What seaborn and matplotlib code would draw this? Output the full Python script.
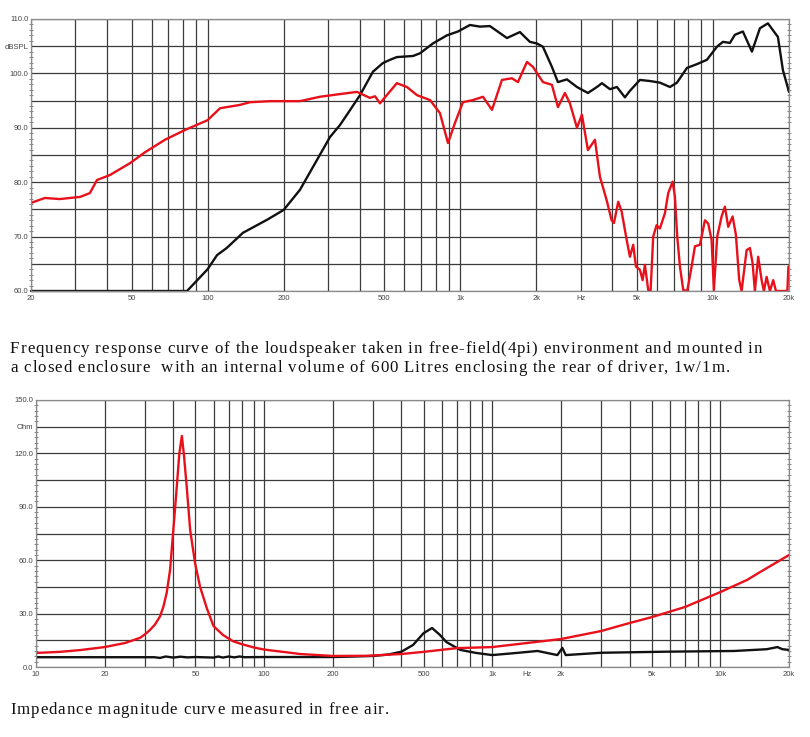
import numpy as np
import pandas as pd
import matplotlib
matplotlib.use('Agg')
import matplotlib.pyplot as plt
import seaborn as sns
from matplotlib.ticker import FixedLocator, FixedFormatter, NullFormatter
from matplotlib.font_manager import FontProperties

sns.set_theme(style='white')
plt.rcParams['font.family'] = ['Liberation Sans', 'DejaVu Sans']

# ---------------- data: frequency response (top) ----------------
spl_red_freq = [20, 22.7, 26, 31.3, 34.2, 36.5, 41, 49.3, 56.5, 67.8, 81.4, 100, 112, 134, 147,
                177, 232, 278, 334, 390, 439, 460, 481, 561, 615, 674, 759, 831, 894, 953,
                1024, 1122, 1230, 1335, 1462, 1601, 1691, 1836, 1939, 2124, 2305, 2435, 2595,
                2716, 2896, 3030, 3200, 3412, 3571, 3796, 3972, 4058, 4218, 4352, 4556, 4693,
                4836, 4958, 5140, 5268, 5380, 5544, 5666, 5802, 5984, 6168, 6456, 6654, 6926,
                7072, 7222, 7402, 7628, 7910, 8234, 8486, 8882, 9296, 9578, 9878, 10088, 10396,
                10822, 11152, 11494, 11964, 12330, 12706, 12986, 13592, 14008, 14354, 14656,
                15104, 15582, 15912, 16306, 16806, 17322, 17754, 19700, 19900, 20000]
spl_red_db = [76.2, 77.1, 76.9, 77.3, 78.0, 80.4, 81.3, 83.5, 85.5, 87.8, 89.6, 91.4, 93.6, 94.2, 94.7,
              94.9, 94.9, 95.7, 96.2, 96.6, 95.5, 95.8, 94.5, 98.2, 97.5, 96.0, 95.1, 92.7, 87.2, 90.9,
              94.7, 95.1, 95.7, 93.3, 98.8, 99.1, 98.4, 102.1, 101.2, 98.4, 97.9, 93.8, 96.4,
              94.5, 90.0, 92.4, 85.9, 87.8, 81.0, 76.7, 73.0, 72.5, 76.4, 74.6, 69.4, 66.3,
              68.5, 64.5, 63.9, 62.0, 64.8, 60.2, 60.0, 70.0, 72.1, 71.5, 74.3, 78.0, 80.1,
              77.3, 70.0, 64.5, 60.2, 60.0, 64.5, 68.2, 68.5, 73.0, 72.4, 69.4, 60.2, 70.0,
              73.7, 75.5, 71.8, 73.7, 70.3, 62.0, 60.0, 67.5, 67.9, 65.1, 60.0,
              66.3, 62.0, 60.0, 62.6, 60.0, 62.0, 60.0, 60.0, 64.5, 64.5]

spl_black_freq = [20, 82.9, 100, 109, 119, 138, 172, 200, 232, 278, 305, 334, 356, 401, 451, 494,
                  527, 561, 650, 693, 779, 886, 979, 1092, 1196, 1310, 1436, 1530, 1722, 1886,
                  2011, 2124, 2305, 2435, 2643, 2896, 3200, 3474, 3636, 3912, 4169, 4484, 4693,
                  5140, 5630, 6168, 6758, 7204, 7889, 8640, 9464, 10368, 10950, 11674, 12217,
                  13140, 14265, 15344, 16504, 18079, 18920, 20000]
spl_black_db = [60.0, 60.0, 64.0, 66.6, 67.9, 70.7, 73.1, 74.9, 78.6, 85.0, 88.3, 90.5, 92.4, 96.0, 100.3, 101.9,
                102.5, 103.0, 103.2, 103.7, 105.5, 107.0, 107.7, 108.9, 108.6, 108.7, 107.4, 106.5, 107.6, 105.8,
                105.5, 104.9, 101.2, 98.4, 98.9, 97.5, 96.4, 97.5, 98.2, 97.1, 97.5, 95.6, 96.8,
                98.8, 98.6, 98.3, 97.5, 98.3, 101.0, 101.7, 102.5, 104.9, 105.8, 105.6, 107.1,
                107.7, 104.0, 108.3, 109.2, 106.7, 100.6, 96.6]

# ---------------- data: impedance (bottom) ----------------
imp_red_freq = [10, 12.7, 15.6, 20, 24.6, 28.6, 30, 31.6, 33.2, 35.0, 36.2, 37.4, 38.7, 40.0, 41.4, 42.5, 43.6,
                44.6, 45.8, 47.4, 49.8, 52.4, 56.1, 60, 66, 73, 80, 90, 100, 144, 200, 283, 400,
                500, 700, 1000, 2000, 3000, 4000, 5000, 7000, 10000, 13100, 14970, 20000]
imp_red_ohm = [7.9, 8.5, 9.5, 11.2, 13.5, 16.4, 18.3, 20.8, 23.8, 28.5, 34.0, 41.6, 54.5, 77.0, 101.0, 120.0, 129.8,
               118.0, 101.0, 77.0, 58.4, 45.0, 33.0, 23.0, 18.0, 14.5, 12.8, 11.0, 9.8, 7.3, 6.2, 6.3, 7.3,
               8.5, 10.6, 11.2, 15.7, 20.2, 24.7, 28.0, 33.7, 42.1, 48.9, 53.4, 62.9]

imp_black_freq = [10, 20, 33, 35, 37, 40, 43, 46, 50, 60, 63, 66, 70, 74, 78, 82, 100, 200, 250, 300,
                  350, 400, 450, 500, 545, 590, 630, 725, 850, 1000, 1280, 1580, 1930, 2030, 2100,
                  3000, 5800, 11500, 16000, 17800, 18700, 20000]
imp_black_ohm = [5.5, 5.5, 5.5, 5.1, 5.9, 5.3, 5.8, 5.4, 5.6, 5.3, 5.9, 5.3, 5.9, 5.4, 5.9, 5.5, 5.6, 5.6, 5.9, 6.2,
                 7.0, 8.6, 12.4, 19.0, 21.9, 18.0, 14.0, 9.6, 7.9, 6.7, 7.9, 9.0, 6.7, 10.7, 6.7,
                 8.0, 8.6, 9.0, 10.0, 11.2, 10.0, 9.6]

top_xticks = [20, 50, 100, 200, 500, 1000, 2000, 3000, 5000, 10000, 20000]
top_xlabels = ['20', '50', '100', '200', '500', '1k', '2k', 'Hz', '5k', '10k', '20k']
top_yticks = [60, 65, 70, 75, 80, 85, 90, 95, 100, 105, 110]
top_ylabels = ['60.0', '', '70.0', '', '80.0', '', '90.0', '', '100.0', 'dBSPL', '110.0']

bot_xticks = [10, 20, 50, 100, 200, 500, 1000, 1414, 2000, 5000, 10000, 20000]
bot_xlabels = ['10', '20', '50', '100', '200', '500', '1k', 'Hz', '2k', '5k', '10k', '20k']
bot_yticks = [0, 15, 30, 45, 60, 75, 90, 105, 120, 135, 150]
bot_ylabels = ['0.0', '', '30.0', '', '60.0', '', '90.0', '', '120.0', 'Ohm', '150.0']

caption1 = ["Frequency response curve of the loudspeaker taken in free-field(4pi) environment and mounted in",
            "a closed enclosure  with an internal volume of 600 Litres enclosing the rear of driver, 1w/1m."]
caption2 = "Impedance magnitude curve measured in free air."

RED = '#e8101a'
BLACK = '#111111'
GRID = '#3c3c3c'
W, H = 810, 737


def grid_positions(lo, hi):
    pos = []
    dec = 1
    while dec <= hi:
        for m in range(1, 10):
            v = m * dec
            if lo <= v <= hi:
                pos.append(v)
        dec *= 10
    return pos


def style_axes(ax, xlim, ylim, xticks, xlabels, yticks, ylabels, yminor):
    ax.set_xscale('log')
    ax.set_xlim(*xlim)
    ax.set_ylim(*ylim)
    ax.xaxis.remove_overlapping_locs = False
    ax.xaxis.set_major_locator(FixedLocator(xticks))
    ax.xaxis.set_major_formatter(FixedFormatter(xlabels))
    ax.xaxis.set_minor_locator(FixedLocator(grid_positions(*xlim)))
    ax.xaxis.set_minor_formatter(NullFormatter())
    ax.yaxis.set_major_locator(FixedLocator(yticks))
    ax.yaxis.set_major_formatter(FixedFormatter(ylabels))
    ax.yaxis.set_minor_locator(FixedLocator(yminor))
    ax.xaxis.grid(False, which='major')
    ax.xaxis.grid(True, which='minor', color=GRID, linewidth=0.9)
    ax.yaxis.grid(True, which='major', color=GRID, linewidth=0.9)
    ax.tick_params(axis='x', which='both', length=0, pad=3, labelsize=5.5, labelcolor='#444444')
    ax.tick_params(axis='y', which='major', length=0, pad=2, labelsize=5.5, labelcolor='#444444')
    ax.tick_params(axis='y', which='minor', length=2.5, width=0.6, color='#777777',
                   direction='inout', left=True, right=True)
    ax.set_xlabel('')
    ax.set_ylabel('')
    for s in ax.spines.values():
        s.set_color('#8a8a8a')
        s.set_linewidth(0.9)
    ax.set_axisbelow(True)


fig = plt.figure(figsize=(8.1, 7.37), dpi=100)
ax1 = fig.add_axes([31 / W, 1 - 291 / H, 758 / W, 272 / H])
ax2 = fig.add_axes([36 / W, 1 - 667 / H, 753 / W, 267 / H])

df_top_red = pd.DataFrame({'f': spl_red_freq, 'v': spl_red_db})
df_top_black = pd.DataFrame({'f': spl_black_freq, 'v': spl_black_db})
df_bot_red = pd.DataFrame({'f': imp_red_freq, 'v': imp_red_ohm})
df_bot_black = pd.DataFrame({'f': imp_black_freq, 'v': imp_black_ohm})

sns.lineplot(data=df_top_black, x='f', y='v', ax=ax1, color=BLACK, linewidth=1.7,
             estimator=None, sort=False, legend=False, clip_on=False)
sns.lineplot(data=df_top_red, x='f', y='v', ax=ax1, color=RED, linewidth=1.7,
             estimator=None, sort=False, legend=False)
sns.lineplot(data=df_bot_black, x='f', y='v', ax=ax2, color=BLACK, linewidth=1.7,
             estimator=None, sort=False, legend=False)
sns.lineplot(data=df_bot_red, x='f', y='v', ax=ax2, color=RED, linewidth=1.7,
             estimator=None, sort=False, legend=False)

style_axes(ax1, (20, 20000), (60, 110), top_xticks, top_xlabels, top_yticks, top_ylabels,
           list(range(60, 111)))
style_axes(ax2, (10, 20000), (0, 150), bot_xticks, bot_xlabels, bot_yticks, bot_ylabels,
           list(range(0, 151, 3)))

# ---- captions with letter tracking (Times-like serif) ----
fp = FontProperties(family=['Liberation Serif', 'DejaVu Serif'], size=12.2)
renderer = fig.canvas.get_renderer()


def width_px(s):
    w1, _, _ = renderer.get_text_width_height_descent(s + '|', fp, ismath=False)
    w0, _, _ = renderer.get_text_width_height_descent('|', fp, ismath=False)
    return w1 - w0


natural = width_px(caption1[0])
track = (752 - natural) / (len(caption1[0]) - 1)


def tracked(s, x0, y):
    for i, ch in enumerate(s):
        if ch == ' ':
            continue
        x = x0 + width_px(s[:i]) + i * track
        fig.text(x / W, 1 - y / H, ch, fontproperties=fp, va='center', ha='left', color='#111111')


tracked(caption1[0], 10, 349)
tracked(caption1[1], 10, 368)
tracked(caption2, 10, 710)

fig.savefig('out.png', dpi=100, facecolor='white')
